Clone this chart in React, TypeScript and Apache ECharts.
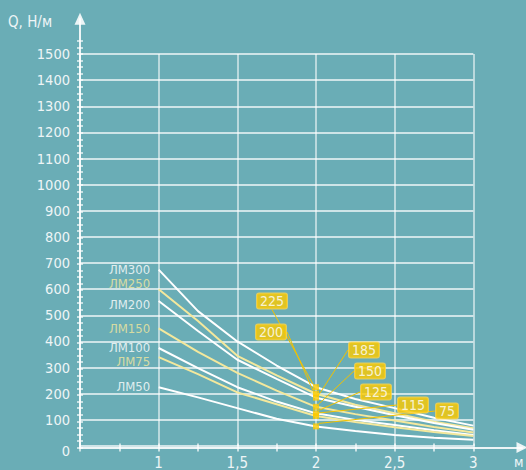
import React, { useEffect, useRef } from 'react';
import * as echarts from 'echarts';

// ---- data ----
const X = [1, 1.25, 1.5, 1.75, 2, 2.25, 2.5, 2.75, 3];
const LM300 = [675, 516, 400, 308, 225, 180, 145, 108, 78];
const LM250 = [600, 478, 345, 270, 200, 158, 125, 93, 68];
const LM200 = [555, 440, 330, 257, 185, 150, 118, 88, 62];
const LM150 = [450, 360, 280, 212, 150, 122, 98, 73, 52];
const LM100 = [375, 298, 225, 170, 125, 100, 80, 60, 42];
const LM75 = [340, 275, 205, 160, 115, 92, 72, 54, 38];
const LM50 = [225, 186, 145, 104, 75, 57, 42, 32, 24];
const SERIES_NAMES = ['ЛМ300', 'ЛМ250', 'ЛМ200', 'ЛМ150', 'ЛМ100', 'ЛМ75', 'ЛМ50'];
const SERIES_VALUES = [LM300, LM250, LM200, LM150, LM100, LM75, LM50];
const CALLOUT_X = 2;
const Y_TITLE = 'Q, Н/м';
const X_UNIT = 'м';

// ---- styles / layout ----
const BG = '#6aadb6';
const WHITE = '#ffffff';
const YELLOW = '#f4e89c';
const GOLD = '#fdc900';
const SERIES_COLORS = [WHITE, YELLOW, WHITE, YELLOW, WHITE, YELLOW, WHITE];
const NAME_OFFSETS = [[0, 0], [0, -5.5], [0, 4], [0, 0], [0, -0.5], [0, 4.5], [0, -0.5]];
const CALLOUT_POS = [[272, 301], [271, 332], [364, 350], [370, 371], [376, 392], [413, 405], [447, 411]];
const FONT = "'Liberation Sans Narrow', 'DejaVu Sans Condensed', Roboto, sans-serif";
const TEXT = '#eef5f6';

const PLOT_LEFT = 80;
const PLOT_RIGHT = 52.7;
const PLOT_TOP = 54;
const PLOT_BOTTOM = 22.5;
const Y_MAX = 1500;
const TICK_Y_MAX = 1550;
const PX_PER_UNIT = (470 - PLOT_BOTTOM - PLOT_TOP) / Y_MAX;

export default function App() {
  const ref = useRef<HTMLDivElement>(null);
  useEffect(() => {
    document.body.style.margin = '0';
    document.body.style.background = BG;
    const chart = echarts.init(ref.current!, null, { renderer: 'svg' });
    const idx2 = X.indexOf(CALLOUT_X);

    const lineSeries = SERIES_VALUES.map((vals, i) => ({
      type: 'line',
      name: SERIES_NAMES[i],
      xAxisIndex: 0,
      yAxisIndex: 0,
      data: X.map((x, j) => [x, vals[j]]),
      symbol: 'none',
      lineStyle: { color: SERIES_COLORS[i], width: 2 },
      z: 3,
    }));

    const option: any = {
      animation: false,
      backgroundColor: BG,
      textStyle: { fontFamily: FONT },
      grid: [
        { left: PLOT_LEFT, right: PLOT_RIGHT, top: PLOT_TOP, bottom: PLOT_BOTTOM },
        {
          left: PLOT_LEFT,
          right: PLOT_RIGHT,
          top: 470 - PLOT_BOTTOM - TICK_Y_MAX * PX_PER_UNIT,
          bottom: PLOT_BOTTOM,
        },
        { left: PLOT_LEFT, right: 4, top: 18.7, bottom: PLOT_BOTTOM },
      ],
      xAxis: [
        {
          type: 'value',
          gridIndex: 0,
          min: 0.5,
          max: 3,
          interval: 0.5,
          axisLine: { show: false },
          axisTick: { show: false },
          splitLine: { show: true, lineStyle: { color: 'rgba(255,255,255,0.72)', width: 1.5 } },
          axisLabel: {
            margin: 9,
            fontSize: 15,
            color: TEXT,
            fontFamily: FONT,
            formatter: (v: number) => (v === 0.5 ? '' : String(v).replace('.', ',')),
          },
        },
        {
          type: 'value',
          gridIndex: 1,
          min: 0.5,
          max: 3,
          interval: 0.25,
          offset: -4,
          axisLine: { show: false },
          axisTick: { show: true, length: 8, lineStyle: { color: 'rgba(255,255,255,0.85)', width: 1.5 } },
          axisLabel: { show: false },
          splitLine: { show: false },
        },
        {
          type: 'value',
          gridIndex: 2,
          min: 0,
          max: 1,
          axisLine: {
            show: true,
            symbol: ['none', 'triangle'],
            symbolSize: [11, 11],
            lineStyle: { color: 'rgba(255,255,255,0.88)', width: 2 },
          },
          axisTick: { show: false },
          axisLabel: { show: false },
          splitLine: { show: false },
        },
      ],
      yAxis: [
        {
          type: 'value',
          gridIndex: 0,
          min: 0,
          max: Y_MAX,
          interval: 100,
          axisLine: { show: false },
          axisTick: { show: false },
          splitLine: { show: true, lineStyle: { color: 'rgba(255,255,255,0.9)', width: 1.5 } },
          axisLabel: {
            margin: 10,
            fontSize: 14.5,
            color: TEXT,
            fontFamily: FONT,
            formatter: (v: number) => (v === 0 ? '{z|0}' : String(v)),
            rich: { z: { padding: [9, 0, 0, 0], fontSize: 14.5, color: TEXT, fontFamily: FONT } },
          },
        },
        {
          type: 'value',
          gridIndex: 1,
          min: 0,
          max: TICK_Y_MAX,
          interval: 25,
          offset: -3,
          axisLine: { show: false },
          axisTick: { show: true, length: 6, lineStyle: { color: 'rgba(255,255,255,0.85)', width: 1.5 } },
          axisLabel: { show: false },
          splitLine: { show: false },
        },
        {
          type: 'value',
          gridIndex: 2,
          min: 0,
          max: 1,
          axisLine: {
            show: true,
            symbol: ['none', 'triangle'],
            symbolSize: [11, 12],
            lineStyle: { color: 'rgba(255,255,255,0.88)', width: 2 },
          },
          axisTick: { show: false },
          axisLabel: { show: false },
          splitLine: { show: false },
        },
      ],
      graphic: [
        {
          type: 'text',
          left: 8,
          top: 14,
          style: { text: Y_TITLE, fontSize: 15, fill: TEXT, fontFamily: FONT },
        },
        {
          type: 'text',
          left: 514,
          top: 455,
          style: { text: X_UNIT, fontSize: 14, fill: TEXT, fontFamily: FONT },
        },
      ],
      series: [
        ...lineSeries,
        {
          type: 'scatter',
          name: 'names',
          xAxisIndex: 0,
          yAxisIndex: 0,
          symbolSize: 1,
          itemStyle: { color: 'rgba(0,0,0,0)' },
          data: SERIES_NAMES.map((n, i) => ({
            name: n,
            value: [X[0], SERIES_VALUES[i][0]],
            label: { color: SERIES_COLORS[i], offset: NAME_OFFSETS[i] },
          })),
          label: {
            show: true,
            position: 'left',
            distance: 8,
            formatter: '{b}',
            fontSize: 13,
            lineHeight: 12,
            fontFamily: FONT,
          },
          z: 4,
        },
        {
          type: 'scatter',
          name: 'callouts',
          xAxisIndex: 0,
          yAxisIndex: 0,
          symbol: 'rect',
          symbolSize: 6,
          itemStyle: { color: GOLD },
          data: SERIES_VALUES.map((vals) => [CALLOUT_X, vals[idx2]]),
          label: {
            show: true,
            formatter: (p: any) => String(p.value[1]),
            color: '#ffffff',
            fontSize: 14,
            fontFamily: FONT,
            backgroundColor: GOLD,
            borderColor: '#f9d656',
            borderWidth: 1,
            borderRadius: 2,
            padding: [1, 3, 0, 3],
            lineHeight: 14,
          },
          labelLayout: (params: any) => {
            const p = CALLOUT_POS[params.dataIndex];
            return { x: p[0], y: p[1], align: 'center', verticalAlign: 'middle' };
          },
          labelLine: { show: true, lineStyle: { color: '#f2c200', width: 1 } },
          z: 6,
        },
      ],
    };
    chart.setOption(option);
    return () => chart.dispose();
  }, []);
  return <div ref={ref} style={{ width: 526, height: 470, background: BG }} />;
}
